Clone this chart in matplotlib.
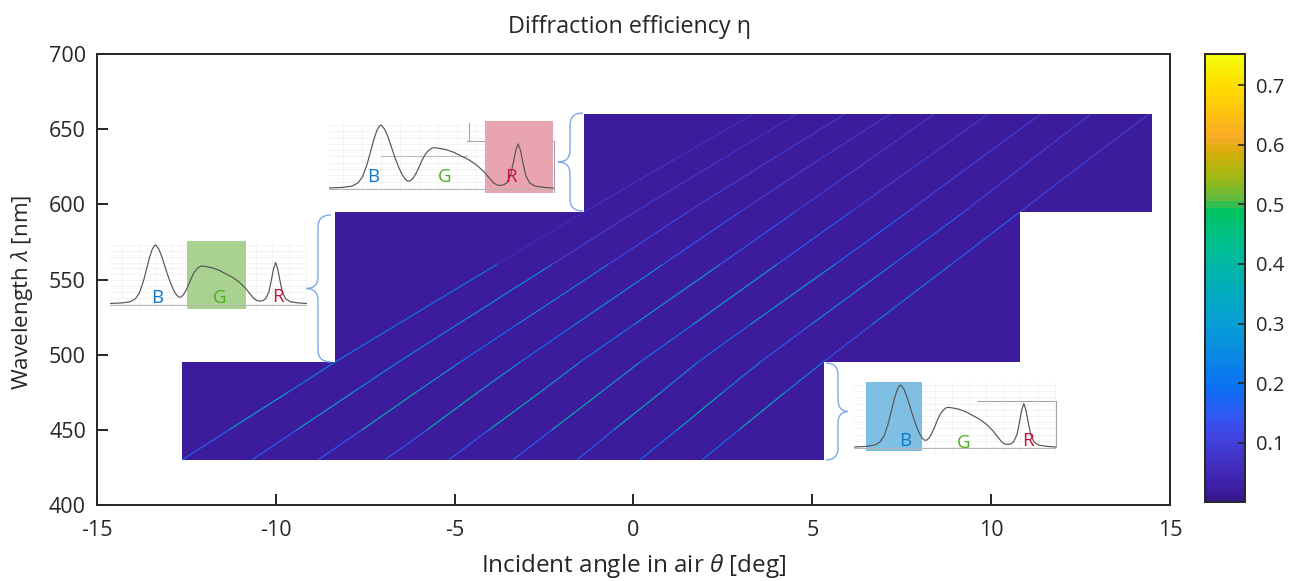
"""Diffraction efficiency map with the three RGB spectrum call-outs."""

import matplotlib

matplotlib.use("Agg")
import matplotlib.pyplot as plt
import numpy as np
from matplotlib.cm import ScalarMappable
from matplotlib.collections import LineCollection
from matplotlib.colors import LinearSegmentedColormap, Normalize
from matplotlib.patches import PathPatch, Polygon, Rectangle
from matplotlib.path import Path
from matplotlib.transforms import Affine2D

plt.rcParams["font.family"] = ["Open Sans", "DejaVu Sans"]
plt.rcParams["mathtext.fontset"] = "custom"
plt.rcParams["mathtext.it"] = "Open Sans:italic"
plt.rcParams["mathtext.rm"] = "Open Sans"
plt.rcParams["axes.unicode_minus"] = False

W, H = 1296, 581
INK = "#262626"

# stepped measured area: (theta from, theta to, lambda from, lambda to)
region_theta_lo = [-12.62, -8.35, -1.38]
region_theta_hi = [5.32, 10.81, 14.51]
region_lam_lo = [430, 495, 595]
region_lam_hi = [495, 595, 660]
background_eta = 0.012

# Bragg lines, read at these wavelengths
line_lam = [430, 450, 475, 495, 520, 560, 595, 630, 660]
line_theta = [
    [-12.62, -11.31, -9.66, -8.35, -6.61, -3.82, -1.38, 1.16, 3.34],
    [-10.67, -9.41, -7.84, -6.58, -4.93, -2.28, 0.04, 2.47, 4.57],
    [-8.82, -7.59, -6.08, -4.85, -3.26, -0.71, 1.52, 3.87, 5.91],
    [-6.95, -5.77, -4.35, -3.17, -1.64, 0.82, 2.98, 5.21, 7.17],
    [-5.16, -4.04, -2.61, -1.50, 0.01, 2.42, 4.52, 6.61, 8.40],
    [-3.37, -2.28, -0.91, 0.18, 1.66, 4.01, 6.08, 8.14, 9.91],
    [-1.58, -0.55, 0.77, 1.80, 3.26, 5.63, 7.67, 9.66, 11.39],
    [0.18, 1.22, 2.50, 3.54, 4.96, 7.25, 9.24, 11.14, 12.79],
    [1.92, 2.95, 4.24, 5.30, 6.67, 8.88, 10.81, 12.73, 14.41],
]
line_eta = [
    [0.05, 0.30, 0.38, 0.08, 0.36, 0.08, 0.03, 0.12, 0.02],
    [0.05, 0.26, 0.42, 0.10, 0.38, 0.15, 0.04, 0.13, 0.02],
    [0.05, 0.28, 0.46, 0.12, 0.28, 0.20, 0.05, 0.15, 0.02],
    [0.05, 0.28, 0.46, 0.12, 0.28, 0.24, 0.05, 0.15, 0.02],
    [0.05, 0.28, 0.46, 0.12, 0.30, 0.27, 0.05, 0.15, 0.02],
    [0.05, 0.30, 0.45, 0.12, 0.30, 0.30, 0.05, 0.15, 0.02],
    [0.05, 0.30, 0.42, 0.11, 0.28, 0.30, 0.06, 0.16, 0.03],
    [0.05, 0.33, 0.40, 0.09, 0.24, 0.30, 0.06, 0.16, 0.03],
    [0.05, 0.33, 0.40, 0.09, 0.18, 0.28, 0.06, 0.16, 0.03],
]

# LED spectrum shown in the call-outs
spec_lam = [382, 400, 412, 420, 426, 432, 437, 441, 445, 448, 450, 452, 455, 459, 463, 468,
            473, 478, 482, 485, 488, 492, 496, 500, 504, 508, 512, 516, 520, 526, 535, 545,
            555, 565, 575, 585, 592, 598, 602, 606, 611, 615, 620, 624, 627, 630, 633, 636,
            640, 645, 652, 664, 677]
spec_int = [0.0, 0.01, 0.03, 0.08, 0.18, 0.38, 0.60, 0.78, 0.92, 0.98, 1.0, 0.98, 0.93, 0.82,
            0.68, 0.50, 0.34, 0.21, 0.14, 0.11, 0.11, 0.15, 0.23, 0.33, 0.44, 0.53, 0.59,
            0.63, 0.64, 0.63, 0.61, 0.57, 0.51, 0.45, 0.37, 0.26, 0.16, 0.08, 0.05, 0.04,
            0.05, 0.08, 0.20, 0.42, 0.60, 0.70, 0.60, 0.42, 0.20, 0.08, 0.03, 0.01, 0.0]

cbar_ticks = [0.1, 0.2, 0.3, 0.4, 0.5, 0.6, 0.7]

parula_stops = [
    (0.00, "#37188c"), (0.02, "#3f1fa6"), (0.07, "#4233c8"), (0.11, "#4046e6"),
    (0.15, "#2c5cf5"), (0.19, "#0a70f2"), (0.24, "#0a86e6"), (0.30, "#089fd4"),
    (0.35, "#03abc0"), (0.40, "#00b8a4"), (0.45, "#00c084"), (0.495, "#00c25c"),
    (0.51, "#5cbb44"), (0.55, "#a0b814"), (0.59, "#d2ae06"), (0.62, "#fbab28"),
    (0.66, "#fdc30e"), (0.71, "#fee000"), (0.755, "#f6fb0c"),
]
parula = LinearSegmentedColormap.from_list(
    "parula_like", [(v / 0.755, c) for v, c in parula_stops], N=64
)
norm = Normalize(0.0, 0.755)

fig = plt.figure(figsize=(W / 100, H / 100), dpi=100, facecolor="white")
to_px = Affine2D().scale(1 / W, -1 / H).translate(0, 1) + fig.transFigure


def box(left, top, right, bottom):
    return [left / W, 1 - bottom / H, (right - left) / W, (bottom - top) / H]


ax = fig.add_axes(box(97, 54, 1170, 505))
for lo, hi, lam_lo, lam_hi in zip(region_theta_lo, region_theta_hi, region_lam_lo, region_lam_hi):
    ax.pcolormesh([lo, hi], [lam_lo, lam_hi], [[background_eta]], cmap=parula, norm=norm,
                  shading="flat", zorder=1)

# keep the lines inside the stepped area
clip_xy = [
    (region_theta_lo[0], 430), (region_theta_hi[0], 430), (region_theta_hi[0], 495),
    (region_theta_hi[1], 495), (region_theta_hi[1], 595), (region_theta_hi[2], 595),
    (region_theta_hi[2], 660), (region_theta_lo[2], 660), (region_theta_lo[2], 595),
    (region_theta_lo[1], 595), (region_theta_lo[1], 495), (region_theta_lo[0], 495),
]
clip_poly = Polygon(clip_xy, closed=True, transform=ax.transData, facecolor="none", edgecolor="none")
ax.add_patch(clip_poly)

for theta, eta in zip(line_theta, line_eta):
    pts = np.column_stack([theta, line_lam])
    segs = np.stack([pts[:-1], pts[1:]], axis=1)
    lc = LineCollection(segs, cmap=parula, norm=norm, linewidths=0.8, zorder=2)
    lc.set_array((np.array(eta[:-1]) + np.array(eta[1:])) / 2)
    ax.add_collection(lc)
    lc.set_clip_path(clip_poly)

ax.set_xlim(-15, 15)
ax.set_ylim(400, 700)
ax.set_xticks(range(-15, 16, 5))
ax.set_yticks(range(400, 701, 50))
ax.tick_params(direction="in", length=8, width=1.4, labelsize=15.5, colors=INK)
ax.tick_params(axis="x", pad=11)
ax.tick_params(axis="y", pad=8)
for sp in ax.spines.values():
    sp.set_linewidth(1.4)
    sp.set_color(INK)
ax.set_xlabel(r"Incident angle in air $\theta$ [deg]", fontsize=17.5, color=INK, labelpad=8)
ax.set_ylabel(r"Wavelength $\lambda$ [nm]", fontsize=16.2, color=INK)
ax.yaxis.set_label_coords(-0.058, 0.472)
fig.text(629 / W, 1 - 27 / H, "Diffraction efficiency η", fontsize=16.8, color=INK,
         ha="center", va="center")

cax = fig.add_axes(box(1205, 54, 1245, 502))
cb = fig.colorbar(ScalarMappable(norm=Normalize(0.001, 0.752), cmap=parula), cax=cax)
cb.set_ticks(cbar_ticks)
cb.ax.tick_params(direction="in", length=5, width=1.2, labelsize=14.5, colors=INK, pad=8)
cb.outline.set_linewidth(1.4)
cb.outline.set_edgecolor(INK)


def callout(left, right, top, bottom, peak_y, base_y, band, band_color, letters, extra):
    x0, x1, y0, y1 = band
    sub = fig.add_axes(box(left, top, right, bottom), zorder=3)
    sub.patch.set_alpha(0)
    sub.axis("off")
    sub.set_xlim(spec_lam[0], spec_lam[-1])
    unit = base_y - peak_y
    sub.set_ylim(-(bottom - base_y) / unit, 1 + (peak_y - top) / unit)
    for level in np.arange(0.0, 1.01, 0.1):
        sub.axhline(level, color="#e2e2e2", lw=0.5, alpha=0.55, zorder=1)
    for lam in range(400, 680, 25):
        sub.axvline(lam, color="#e6e6e6", lw=0.5, alpha=0.55, zorder=1)
    # the coloured band sits over the grid but under the curve
    sub.add_patch(Rectangle((x0, y0), x1 - x0, y1 - y0, transform=to_px, facecolor=band_color,
                            edgecolor="none", clip_on=False, zorder=1.5))
    sub.axhline(-0.02, color="#b4b4b4", lw=0.7, zorder=2)
    sub.plot(spec_lam, spec_int, color="#555555", lw=0.85, zorder=3)
    for xs, ys in extra:
        fig.add_artist(plt.Line2D(xs, ys, transform=to_px, color="#a4a4a4", lw=0.8, zorder=3))
    for (ch, x, y), col in zip(letters, ["#0a78d0", "#4cb01c", "#c8143c"]):
        fig.text(x / W, 1 - y / H, ch, color=col, fontsize=13.5, ha="center", va="center", zorder=4)


def brace(x_end, x_spine, x_tip, y_top, y_bot):
    y_mid = (y_top + y_bot) / 2
    r = 12
    verts = [
        (x_end, y_top), (x_spine, y_top), (x_spine, y_top + r),
        (x_spine, y_mid - r),
        (x_spine, y_mid), (x_tip, y_mid),
        (x_spine, y_mid), (x_spine, y_mid + r),
        (x_spine, y_bot - r),
        (x_spine, y_bot), (x_end, y_bot),
    ]
    codes = [Path.MOVETO, Path.CURVE3, Path.CURVE3, Path.LINETO, Path.CURVE3, Path.CURVE3,
             Path.CURVE3, Path.CURVE3, Path.LINETO, Path.CURVE3, Path.CURVE3]
    fig.add_artist(PathPatch(Path(verts, codes), transform=to_px, facecolor="none",
                             edgecolor="#7fa8e6", lw=1.0, zorder=2))


callout(329, 554, 123, 193, 125, 188, (485, 553, 121, 193), "#e9a5af",
        [("B", 373, 177), ("G", 445, 177), ("R", 511, 177)],
        [([469, 469, 467, 554, 554], [123, 141, 141, 141, 192]), ([381, 467], [156, 156])])
callout(110, 307, 243, 310, 245, 303.5, (187, 246, 241, 309), "#a9d190",
        [("B", 157, 298), ("G", 220, 298), ("R", 278, 297)], [])
callout(854, 1056, 382, 453, 385, 447, (866, 922, 382, 451), "#7fbfe3",
        [("B", 905, 441), ("G", 964, 443), ("R", 1028, 441)],
        [([978, 1056, 1056], [401, 401, 447])])

brace(583, 570, 558, 113, 211)
brace(331, 318, 306, 215, 362)
brace(826, 838, 848, 363, 460)

fig.savefig("out.png", dpi=100)
